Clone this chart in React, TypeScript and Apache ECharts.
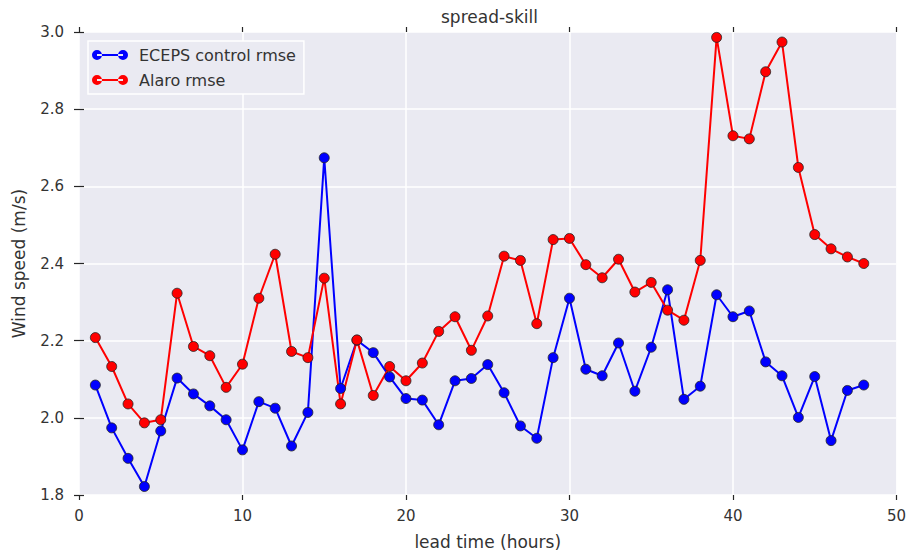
import React, { useEffect, useRef } from "react";
import * as echarts from "echarts";

// Lead time (hours) for each verification point
const hours = [
  1, 2, 3, 4, 5, 6, 7, 8, 9, 10, 11, 12, 13, 14, 15, 16, 17, 18, 19, 20, 21, 22, 23, 24,
  25, 26, 27, 28, 29, 30, 31, 32, 33, 34, 35, 36, 37, 38, 39, 40, 41, 42, 43, 44, 45, 46, 47, 48,
];

// ECEPS control member RMSE (m/s)
const ecepsRmse = [
  2.085, 1.974, 1.895, 1.822, 1.966, 2.103, 2.062, 2.031, 1.995, 1.917, 2.042, 2.025,
  1.927, 2.014, 2.674, 2.076, 2.201, 2.169, 2.106, 2.05, 2.046, 1.982, 2.096, 2.102,
  2.138, 2.065, 1.979, 1.947, 2.156, 2.31, 2.126, 2.109, 2.194, 2.069, 2.183, 2.332,
  2.048, 2.082, 2.319, 2.262, 2.277, 2.145, 2.109, 2.001, 2.107, 1.941, 2.071, 2.085,
];

// Alaro RMSE (m/s)
const alaroRmse = [
  2.208, 2.133, 2.036, 1.987, 1.995, 2.323, 2.185, 2.161, 2.079, 2.139, 2.31, 2.424,
  2.172, 2.156, 2.362, 2.036, 2.202, 2.058, 2.133, 2.096, 2.142, 2.224, 2.262, 2.175,
  2.264, 2.419, 2.408, 2.244, 2.462, 2.465, 2.397, 2.363, 2.411, 2.326, 2.351, 2.279,
  2.253, 2.408, 2.986, 2.731, 2.723, 2.897, 2.974, 2.649, 2.475, 2.438, 2.417, 2.4,
];

const seriesNames = ["ECEPS control rmse", "Alaro rmse"];
const seriesColors = ["#0000ff", "#ff0000"];

const TEXT = "#333333";
const TICK = "#262626";

// two markers joined by a line, as used in the legend
const legendIcon =
  "path://M0,5a5,5 0 1,0 10,0a5,5 0 1,0 -10,0Z M26,5a5,5 0 1,0 10,0a5,5 0 1,0 -10,0Z M5,4h26v2h-26Z";

export default function App() {
  const ref = useRef<HTMLDivElement>(null);

  useEffect(() => {
    if (!ref.current) return;
    const chart = echarts.init(ref.current, null, { renderer: "svg" });

    const tickOnly = {
      axisLine: { show: false },
      axisLabel: { show: false },
      splitLine: { show: false },
      axisTick: { show: true, length: 5, lineStyle: { color: TICK, width: 1.2 } },
    };

    const makeSeries = (name: string, values: number[], color: string) => ({
      name,
      type: "line",
      data: hours.map((h, i) => [h, values[i]]),
      symbol: "circle",
      symbolSize: 10,
      showSymbol: true,
      lineStyle: { color, width: 2 },
      itemStyle: { color, borderColor: "#222", borderWidth: 0.8 },
      emphasis: { disabled: true },
      z: 3,
    });

    chart.setOption({
      animation: false,
      textStyle: { fontFamily: "DejaVu Sans" },
      title: {
        text: "spread-skill",
        left: 441,
        top: 8,
        padding: 0,
        textStyle: { fontSize: 17, fontWeight: "normal", color: TEXT, fontFamily: "DejaVu Sans" },
      },
      legend: {
        orient: "vertical",
        left: 88,
        top: 41,
        padding: [6, 8, 6, 4],
        itemGap: 9,
        itemWidth: 36,
        itemHeight: 14,
        icon: legendIcon,
        backgroundColor: "#eaeaf2",
        borderColor: "#ffffff",
        borderWidth: 1.5,
        itemStyle: { borderWidth: 0 },
        textStyle: { fontSize: 16, color: TEXT, fontFamily: "DejaVu Sans", lineHeight: 16, padding: [0, 0, 0, 6] },
        data: seriesNames,
      },
      grid: {
        left: 79,
        right: 11,
        top: 32,
        bottom: 57,
        show: true,
        backgroundColor: "#eaeaf2",
        borderWidth: 0,
      },
      xAxis: [
        {
          type: "value",
          min: 0,
          max: 50,
          interval: 10,
          position: "bottom",
          name: "lead time (hours)",
          nameLocation: "middle",
          nameGap: 38,
          nameTextStyle: { fontSize: 17, color: TEXT, fontFamily: "DejaVu Sans" },
          axisLine: { show: false },
          axisTick: { show: true, length: 5, lineStyle: { color: TICK, width: 1.2 } },
          axisLabel: { fontSize: 15, color: TEXT, margin: 13, fontFamily: "DejaVu Sans" },
          splitLine: { show: true, lineStyle: { color: "#ffffff", width: 1.5 } },
        },
        { type: "value", min: 0, max: 50, interval: 10, position: "top", ...tickOnly },
      ],
      yAxis: [
        {
          type: "value",
          min: 1.8,
          max: 3.0,
          interval: 0.2,
          position: "left",
          name: "Wind speed (m/s)",
          nameLocation: "middle",
          nameGap: 52,
          nameTextStyle: { fontSize: 17, color: TEXT, fontFamily: "DejaVu Sans" },
          axisLine: { show: false },
          axisTick: { show: true, length: 5, lineStyle: { color: TICK, width: 1.2 } },
          axisLabel: {
            fontSize: 15,
            color: TEXT,
            margin: 15,
            fontFamily: "DejaVu Sans",
            formatter: (v: number) => v.toFixed(1),
          },
          splitLine: { show: true, lineStyle: { color: "#ffffff", width: 1.5 } },
        },
        { type: "value", min: 1.8, max: 3.0, interval: 0.2, position: "right", ...tickOnly },
      ],
      series: [
        makeSeries(seriesNames[0], ecepsRmse, seriesColors[0]),
        makeSeries(seriesNames[1], alaroRmse, seriesColors[1]),
      ],
    });

    return () => chart.dispose();
  }, []);

  return (
    <div
      ref={ref}
      style={{ position: "fixed", left: 0, top: 0, width: 909, height: 555, background: "#ffffff" }}
    />
  );
}
